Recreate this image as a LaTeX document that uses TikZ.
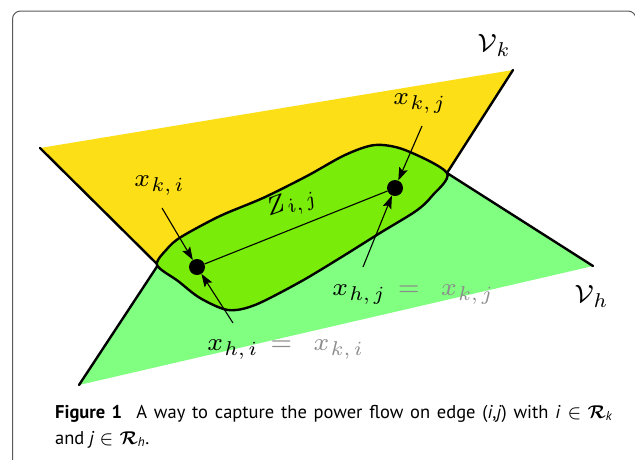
\RequirePackage{fix-cm}
\documentclass[tikz,border=0pt]{standalone}
\usepackage{fontspec}
\usepackage{amsmath,bm}
\usetikzlibrary{arrows.meta}
\DeclareFontShape{OML}{cmm}{m}{it}{<->cmmi7}{}
\DeclareFontShape{OMS}{cmsy}{m}{n}{<->cmsy7}{}
\DeclareFontShape{OT1}{cmr}{m}{n}{<->cmr7}{}
\newfontfamily\capfont{PT Sans}
\DeclareMathSizes{25}{25}{20}{14}
\definecolor{vkyellow}{RGB}{252,223,22}
\definecolor{vhgreen}{RGB}{128,255,128}
\definecolor{blobgreen}{RGB}{122,236,10}
\definecolor{eqgray}{RGB}{140,140,140}
\definecolor{framegray}{RGB}{90,90,90}
\newcommand{\mysub}[1]{_{\mkern1mu #1}}
\tikzset{
  planeedge/.style={line width=2.4pt, line cap=round},
  arr/.style={-{Stealth[length=13pt,width=9pt,inset=2.5pt]}, line width=1.1pt},
  dot/.style={circle, fill=black, minimum size=16pt, inner sep=0pt},
  lab/.style={inner sep=0pt, anchor=base west, font=\fontsize{25}{29}\selectfont},
}
\begin{document}
\begin{tikzpicture}[x=1pt,y=-1pt]
\useasboundingbox (0,0) rectangle (635,459);
\fill[white] (0,0) rectangle (635,459);
% frame
\draw[framegray, line width=1pt, rounded corners=8pt] (12.5,470) -- (12.5,11) -- (636,11) -- (636,470);
% planes (visible parts)
\fill[vkyellow] (40,148) -- (513,70) -- (447,173) -- (158,265) -- cycle;
\fill[vhgreen] (158,265) -- (447,173) -- (593,266) -- (79,385) -- cycle;
\draw[planeedge] (40,148) -- (158,265);
\draw[planeedge] (79,385) -- (158,265);
\draw[planeedge] (513,70) -- (447,173);
\draw[planeedge] (447,173) -- (593,266);
% intersection region
\draw[line width=2.4pt, fill=blobgreen] plot[smooth cycle, tension=0.5] coordinates {
  (157,265) (167,249) (181,237) (220,216) (263,198) (307,176) (345,155) (375,145)
  (405,150) (447,173) (432,196) (416,211) (380,233) (340,258) (300,282)
  (255,305) (228,310) (200,298) (178,281)};
% points
\node[dot] (di) at (197,267) {};
\node[dot] (dj) at (395,188) {};
\draw[line width=1.1pt] (di) -- (dj);
\node[lab, rotate=20, anchor=center] (zij) at (291,204) {$Z\mysub{i,\,j}$};
% labels
\node[lab] (xki) at (134,186) {$x\mysub{k,\,i}$};
\node[lab] (xkj) at (393,104) {$x\mysub{k,\,j}$};
\node[lab] (xhj) at (332,295) {$x\mysub{h,\,j}\mkern8mu{\color{eqgray}=\mkern8mu x\mysub{k,\,j}}$};
\node[lab] (xhi) at (207,350) {$x\mysub{h,\,i}\mkern8mu{\color{eqgray}=\mkern8mu x\mysub{k,\,i}}$};
\node[lab] (vk) at (477,51) {$\mathcal{V}\mysub{k}$};
\node[lab] (vh) at (574,302) {$\mathcal{V}\mysub{h}$};
\coordinate (aki) at (162,208);
\coordinate (ahi) at (233,323);
\coordinate (ahj) at (363,267);
\coordinate (akj) at (422,126);
\draw[arr] (aki) -- (di);
\draw[arr] (ahi) -- (di);
\draw[arr] (ahj) -- (dj);
\draw[arr] (akj) -- (dj);
% caption
\node[anchor=base west, inner sep=0pt, align=left, font=\capfont\fontsize{18.5}{26}\selectfont] (cap) at (55,444)
  {\makebox[557pt][s]{{\bfseries Figure 1}\hspace{0.4em} A way to capture the power flow on edge (\textit{i},\textit{j}) with \textit{i} $\mathord{\in}\mkern5mu\bm{\mathcal{R}}_{\text{\itshape k}}$}\\
   and \textit{j} $\mathord{\in}\mkern5mu\bm{\mathcal{R}}_{\text{\itshape h}}$.};
\end{tikzpicture}
\end{document}
